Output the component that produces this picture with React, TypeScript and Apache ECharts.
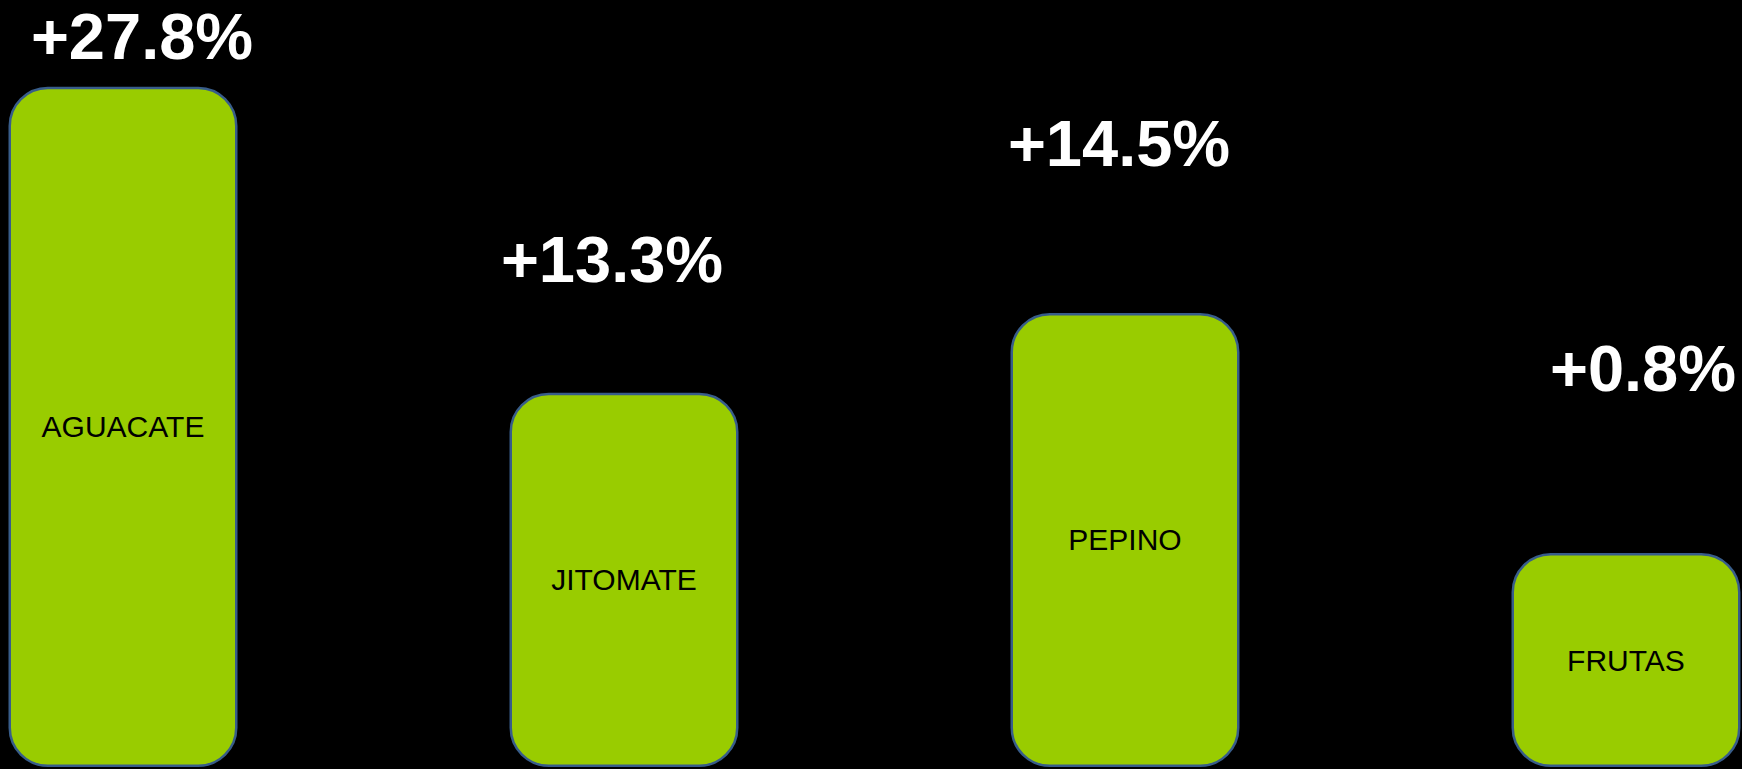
import React, { useEffect, useRef } from "react";
import * as echarts from "echarts";

// Categories shown inside the bars
const categories = ["AGUACATE", "JITOMATE", "PEPINO", "FRUTAS"];
// Bar heights (relative scale 0-100)
const barValues = [88.7, 48.8, 59.2, 27.9];
// Percentage change labels
const changeLabels = ["+27.8%", "+13.3%", "+14.5%", "+0.8%"];
// Vertical position of each change label on the same 0-100 scale
const labelLevels = [95.3, 66.2, 81.3, 51.9];

export default function App() {
  const ref = useRef<HTMLDivElement>(null);

  useEffect(() => {
    if (!ref.current) return;
    const chart = echarts.init(ref.current, undefined, { renderer: "svg" });
    const labelShift = [19, -12, -6, 17];
    chart.setOption({
      animation: false,
      backgroundColor: "#000000",
      grid: { left: 123, right: 116, top: 0, bottom: 2, containLabel: false },
      xAxis: {
        type: "category",
        data: categories,
        boundaryGap: false,
        show: false,
      },
      yAxis: {
        type: "value",
        min: 0,
        max: 100,
        show: false,
      },
      series: [
        {
          type: "bar",
          data: barValues,
          barWidth: 229,
          clip: false,
          itemStyle: {
            color: "#99CC00",
            borderColor: "#385D8A",
            borderWidth: 2.5,
            borderRadius: 38,
          },
          label: {
            show: true,
            position: "inside",
            formatter: (p: any) => categories[p.dataIndex],
            color: "#000000",
            fontFamily: "Liberation Sans, Arial, sans-serif",
            fontSize: 30,
          },
        },
        {
          type: "scatter",
          data: labelLevels.map((v, i) => ({
            value: v,
            label: { offset: [labelShift[i], 0] },
          })),
          symbolSize: 0,
          clip: false,
          itemStyle: { opacity: 1 },
          label: {
            show: true,
            position: "inside",
            formatter: (p: any) => changeLabels[p.dataIndex],
            color: "#FFFFFF",
            fontFamily: "Liberation Sans, Arial, sans-serif",
            fontWeight: "bold",
            fontSize: 65,
            lineHeight: 62,
          },
        },
      ],
    });
    return () => chart.dispose();
  }, []);

  return (
    <div
      ref={ref}
      style={{
        position: "absolute",
        left: 0,
        top: 0,
        width: 1742,
        height: 769,
        background: "#000",
      }}
    />
  );
}
